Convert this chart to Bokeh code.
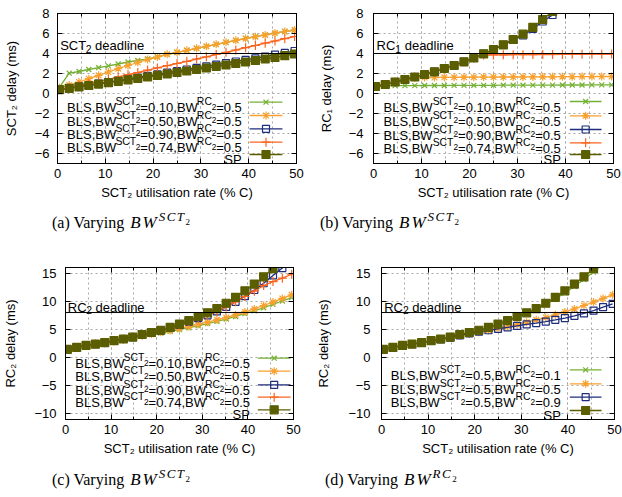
from bokeh.plotting import figure
from bokeh.models import Range1d, FixedTicker, LinearAxis, Span, Div, ColumnDataSource
from bokeh.layouts import column, row
from bokeh.core.properties import value, field
from bokeh.embed import file_html
from bokeh.resources import INLINE

# ---------------- data ----------------
x_util = [0.4, 2.45, 4.5, 6.55, 8.6, 10.65, 12.7, 14.75, 16.8, 18.85, 20.9, 22.95, 25.0,
          27.05, 29.1, 31.15, 33.2, 35.25, 37.3, 39.35, 41.4, 43.45, 45.5, 47.55, 49.6]

x_ticks = [0, 10, 20, 30, 40, 50]
x_minor_ticks = [0, 5, 10, 15, 20, 25, 30, 35, 40, 45, 50]
y_ticks_top = [-6, -4, -2, 0, 2, 4, 6, 8]
y_ticks_bottom = [-10, -5, 0, 5, 10, 15]

# (a) SCT2 delay
a_bw010 = [0.62, 2.03, 2.2, 2.4, 2.58, 2.76, 2.95, 3.15, 3.3, 3.45, 3.65, 3.92, 4.12, 4.32, 4.52, 4.72, 4.92, 5.12, 5.32, 5.5, 5.68, 5.86, 6.04, 6.2, 6.35]
a_bw050 = [0.57, 0.85, 1.15, 1.48, 1.82, 2.15, 2.48, 2.8, 3.1, 3.4, 3.65, 3.92, 4.12, 4.32, 4.52, 4.72, 4.92, 5.12, 5.32, 5.5, 5.68, 5.86, 6.04, 6.2, 6.35]
a_bw090 = [0.38, 0.53, 0.68, 0.83, 0.98, 1.13, 1.28, 1.44, 1.6, 1.76, 1.92, 2.08, 2.24, 2.4, 2.56, 2.72, 2.88, 3.04, 3.2, 3.36, 3.52, 3.7, 3.88, 4.06, 4.25]
a_bw074 = [0.4, 0.58, 0.78, 0.98, 1.2, 1.42, 1.65, 1.88, 2.1, 2.34, 2.56, 2.78, 3.0, 3.22, 3.45, 3.67, 3.9, 4.12, 4.35, 4.58, 4.8, 5.03, 5.25, 5.48, 5.7]
a_sp = [0.38, 0.52, 0.66, 0.8, 0.94, 1.08, 1.22, 1.36, 1.5, 1.65, 1.8, 1.95, 2.1, 2.25, 2.4, 2.55, 2.7, 2.85, 3.0, 3.15, 3.3, 3.45, 3.6, 3.78, 3.95]

# (b) RC1 delay
b_bw010 = [0.7, 0.78, 0.78, 0.79, 0.79, 0.8, 0.8, 0.8, 0.81, 0.81, 0.82, 0.82, 0.82, 0.83, 0.83, 0.83, 0.84, 0.84, 0.84, 0.85, 0.85, 0.85, 0.86, 0.86, 0.86]
b_bw050 = [0.7, 0.9, 1.15, 1.4, 1.6, 1.6, 1.6, 1.62, 1.62, 1.63, 1.63, 1.64, 1.64, 1.65, 1.65, 1.66, 1.66, 1.67, 1.67, 1.68, 1.68, 1.69, 1.69, 1.7, 1.7]
b_bw090 = [0.7, 0.9, 1.15, 1.4, 1.65, 1.9, 2.17, 2.5, 2.8, 3.17, 3.55, 3.97, 4.4, 4.87, 5.35, 5.8, 6.45, 7.2, 7.85, 8.6, 9.5, 10.4, 11.4, 12.5, 13.6]
b_bw074 = [0.7, 0.9, 1.15, 1.4, 1.65, 1.9, 2.17, 2.5, 2.8, 3.17, 3.55, 3.85, 3.86, 3.87, 3.88, 3.88, 3.89, 3.9, 3.9, 3.91, 3.92, 3.92, 3.93, 3.93, 3.94]
b_sp = [0.7, 0.9, 1.15, 1.4, 1.65, 1.9, 2.17, 2.5, 2.8, 3.17, 3.55, 3.97, 4.4, 4.87, 5.4, 5.93, 6.62, 7.4, 8.2, 9.05, 10.0, 11.0, 12.1, 13.3, 14.5]

# (c) RC2 delay, varying BW^SCT2
c_bw010 = [1.45, 1.8, 2.1, 2.35, 2.6, 2.9, 3.18, 3.5, 3.82, 4.08, 4.35, 4.65, 4.97, 5.3, 5.65, 6.02, 6.42, 6.85, 7.3, 7.8, 8.3, 8.85, 9.45, 10.05, 10.65]
c_bw050 = [1.45, 1.8, 2.12, 2.38, 2.62, 2.95, 3.22, 3.55, 3.9, 4.2, 4.5, 4.82, 5.15, 5.5, 5.88, 6.28, 6.7, 7.12, 7.6, 8.1, 8.65, 9.25, 9.85, 10.5, 11.15]
c_bw090 = [1.45, 1.8, 2.15, 2.4, 2.65, 3.0, 3.3, 3.65, 4.05, 4.4, 4.8, 5.25, 5.8, 6.4, 7.0, 7.5, 8.2, 9.0, 9.9, 10.9, 12.0, 13.2, 14.6, 15.9, 17.3]
c_bw074 = [1.45, 1.8, 2.15, 2.4, 2.65, 3.0, 3.3, 3.65, 4.05, 4.4, 4.8, 5.25, 5.8, 6.4, 7.0, 7.5, 8.2, 9.0, 9.9, 10.85, 11.8, 12.8, 13.5, 14.1, 14.8]
rc2_sp = [1.45, 1.8, 2.15, 2.4, 2.65, 3.0, 3.3, 3.65, 4.1, 4.45, 4.85, 5.35, 5.95, 6.55, 7.3, 7.95, 8.7, 9.65, 10.7, 11.85, 13.05, 14.35, 15.8, 17.3, 18.9]

# (d) RC2 delay, varying BW^RC2
d_rc01 = [1.45, 1.8, 2.15, 2.4, 2.65, 3.0, 3.3, 3.65, 4.1, 4.4, 4.8, 5.3, 5.85, 6.45, 7.15, 7.8, 8.5, 9.4, 10.4, 11.5, 12.65, 13.9, 15.2, 16.6, 18.1]
d_rc05 = c_bw050
d_rc09 = [1.45, 1.8, 2.12, 2.38, 2.62, 2.95, 3.22, 3.55, 3.95, 4.3, 4.6, 4.85, 5.1, 5.35, 5.62, 5.88, 6.12, 6.4, 6.7, 7.02, 7.4, 7.85, 8.35, 8.95, 9.55]

deadline_a = 4
deadline_b = 4
deadline_c = 8
deadline_d = 8

# ---------------- styles ----------------
FONT = "Liberation Sans"
GREEN, ORANGE, NAVY, RED, OLIVE = "#74b032", "#f9a12e", "#1e2d7d", "#fb641e", "#5b5e00"
GRIDC = "#a8a8a8"
STY = {
    "g": dict(color=GREEN, marker="x", size=7, fill=None),
    "o": dict(color=ORANGE, marker="asterisk", size=8, fill=None),
    "b": dict(color=NAVY, marker="square", size=7, fill=None),
    "r": dict(color=RED, marker="cross", size=9, fill=None),
    "sp": dict(color=OLIVE, marker="square", size=8, fill=OLIVE),
}

CW = {' ': 278, ',': 278, '.': 278, '=': 584, 'B': 667, 'L': 556, 'S': 667, 'W': 944,
      'C': 722, 'T': 611, 'R': 722, 'P': 667, 'd': 556, 'e': 556, 'a': 556, 'l': 222,
      'i': 222, 'n': 556}
SIZES = {"n": 13.0, "sup": 10.4, "ss": 8.3, "sub": 10.4}
RAISE = {"n": 0.0, "sup": 6.0, "ss": 1.0, "sub": -3.0}


def seg_width(t, s):
    return sum(CW.get(c, 556) for c in t) * s / 1000.0


def to_data(G, gx, gy):
    x0, x1 = G["xr"]
    y0, y1 = G["yr"]
    x = x0 + (gx - G["fl"]) / (G["fr"] - G["fl"]) * (x1 - x0)
    y = y1 - (gy - G["ft"]) / (G["fb"] - G["ft"]) * (y1 - y0)
    return x, y


def rich_text(p, G, segs, gx, gbase, align="left"):
    total = sum(seg_width(t, SIZES[k]) for t, k in segs)
    cx = gx - total if align == "right" else gx
    xs, ys, ts, fs = [], [], [], []
    for t, k in segs:
        lead = len(t) - len(t.lstrip(" "))
        cx += seg_width(" " * lead, SIZES[k])
        t = t.lstrip(" ")
        dx, dy = to_data(G, cx, gbase - RAISE[k])
        xs.append(dx); ys.append(dy); ts.append(t); fs.append("%.1fpx" % SIZES[k])
        cx += seg_width(t, SIZES[k])
    src = ColumnDataSource(dict(x=xs, y=ys, text=ts, fs=fs))
    p.text(x="x", y="y", text="text", source=src, text_font=value(FONT),
           text_font_size=field("fs"), text_align="left", text_baseline="alphabetic",
           text_color="black")


def style_axis(ax, ticker, standoff, lstandoff, mirror=False):
    ax.ticker = ticker
    ax.major_tick_in = 5
    ax.major_tick_out = 0
    ax.minor_tick_in = 3
    ax.minor_tick_out = 0
    ax.axis_line_color = "black"
    ax.major_tick_line_color = "black"
    ax.minor_tick_line_color = "black"
    ax.major_label_standoff = standoff
    ax.axis_label_standoff = lstandoff
    ax.major_label_text_font = FONT
    ax.major_label_text_color = "black"
    ax.axis_label_text_font = FONT
    ax.axis_label_text_font_size = "13px"
    ax.axis_label_text_font_style = "normal"
    ax.axis_label_text_color = "black"
    if mirror:
        ax.major_label_text_font_size = "0px"
        ax.major_label_text_alpha = 0
    else:
        ax.major_label_text_font_size = "13px"


def leg_segs(sct, rc):
    return [("BLS,BW", "n"), ("SCT", "sup"), ("2", "ss"), ("=" + sct + ",BW", "n"),
            ("RC", "sup"), ("2", "ss"), ("=" + rc, "n")]


def make_panel(G, ylabel, yticks, series, legend, deadline, dl_segs):
    p = figure(width=311, height=G["h"], x_range=Range1d(*G["xr"]), y_range=Range1d(*G["yr"]),
               min_border_left=G["fl"] - G["ox"], min_border_right=G["ox"] + 311 - G["fr"],
               min_border_top=G["ft"] - G["oy"], min_border_bottom=G["oy"] + G["h"] - G["fb"],
               output_backend="svg", toolbar_location=None,
               x_axis_label="SCT\u2082 utilisation rate (% C)", y_axis_label=ylabel)
    p.outline_line_color = "black"
    p.outline_line_width = 1
    p.background_fill_color = "white"
    p.border_fill_color = "white"
    xt = FixedTicker(ticks=x_ticks, minor_ticks=x_minor_ticks)
    yt = FixedTicker(ticks=yticks, minor_ticks=[])
    style_axis(p.xaxis[0], xt, 5, 4)
    style_axis(p.yaxis[0], yt, G["ys"], G["yls"])
    top = LinearAxis()
    style_axis(top, xt, 0, 0, mirror=True)
    p.add_layout(top, "above")
    right = LinearAxis()
    style_axis(right, yt, 0, 0, mirror=True)
    p.add_layout(right, "right")
    for gr, tk in ((p.xgrid, xt), (p.ygrid, yt)):
        gr.ticker = tk
        gr.grid_line_color = GRIDC
        gr.grid_line_dash = "2 3"
        gr.grid_line_width = 1
    p.xgrid.minor_grid_line_color = GRIDC
    p.xgrid.minor_grid_line_dash = "2 3"

    p.add_layout(Span(location=deadline, dimension="width", line_color="black", line_width=1))
    rich_text(p, G, dl_segs, G["dl_x"], G["dl_base"])

    for key, ys in series:
        s = STY[key]
        p.line(x_util, ys, line_color=s["color"], line_width=1.3)
        p.scatter(x_util, ys, marker=s["marker"], size=s["size"], line_color=s["color"],
                  fill_color=s["fill"], line_width=1.2)

    for i, (key, segs) in enumerate(legend):
        s = STY[key]
        gy = G["leg_y"][i]
        xa, ya = to_data(G, G["leg_s"][0], gy)
        xb, _ = to_data(G, G["leg_s"][1], gy)
        p.line([xa, xb], [ya, ya], line_color=s["color"], line_width=1.3)
        p.scatter([(xa + xb) / 2], [ya], marker=s["marker"], size=s["size"],
                  line_color=s["color"], fill_color=s["fill"], line_width=1.2)
        base = gy + (4.5 if len(segs) == 1 else 5.5)
        rich_text(p, G, segs, G["leg_r"], base, align="right")
    return p


GA = dict(ox=0, oy=0, h=205, fl=53, fr=296, ft=13, fb=163, xr=(0, 50), yr=(-7, 8), ys=8, yls=13,
          dl_x=55.7, dl_base=45, leg_r=240, leg_s=(248.3, 281.7), leg_y=[101.7, 115, 128.3, 141.7, 154])
GB = dict(ox=311, oy=0, h=205, fl=373, fr=613, ft=13, fb=163, xr=(0, 50), yr=(-7, 8), ys=10, yls=12,
          dl_x=376, dl_base=45, leg_r=560.3, leg_s=(569.3, 601), leg_y=[101, 115.3, 129, 142.3, 154])
GC = dict(ox=0, oy=250, h=215, fl=61, fr=293, ft=267, fb=419, xr=(0, 50), yr=(-11, 16), ys=9, yls=13,
          dl_x=63.3, dl_base=306.7, leg_r=248.3, leg_s=(256.7, 290), leg_y=[357.7, 370.7, 384.3, 396.7, 409.3])
GD = dict(ox=311, oy=250, h=215, fl=381, fr=614, ft=267, fb=419, xr=(0, 50), yr=(-11, 16), ys=11, yls=14,
          dl_x=383.7, dl_base=306.7, leg_r=560.3, leg_s=(569.3, 601), leg_y=[369.3, 383.3, 396.7, 410])

leg_sct = [("g", leg_segs("0.10", "0.5")), ("o", leg_segs("0.50", "0.5")),
           ("b", leg_segs("0.90", "0.5")), ("r", leg_segs("0.74", "0.5")), ("sp", [("SP", "n")])]
leg_rc = [("g", leg_segs("0.5", "0.1")), ("o", leg_segs("0.5", "0.5")),
          ("b", leg_segs("0.5", "0.9")), ("sp", [("SP", "n")])]

pa = make_panel(GA, "SCT\u2082 delay (ms)", y_ticks_top,
                [("g", a_bw010), ("o", a_bw050), ("b", a_bw090), ("r", a_bw074), ("sp", a_sp)],
                leg_sct, deadline_a, [("SCT", "n"), ("2", "sub"), (" deadline", "n")])
pb = make_panel(GB, "RC\u2081 delay (ms)", y_ticks_top,
                [("g", b_bw010), ("o", b_bw050), ("b", b_bw090), ("r", b_bw074), ("sp", b_sp)],
                leg_sct, deadline_b, [("RC", "n"), ("1", "sub"), (" deadline", "n")])
pc = make_panel(GC, "RC\u2082 delay (ms)", y_ticks_bottom,
                [("g", c_bw010), ("o", c_bw050), ("b", c_bw090), ("r", c_bw074), ("sp", rc2_sp)],
                leg_sct, deadline_c, [("RC", "n"), ("2", "sub"), (" deadline", "n")])
pd = make_panel(GD, "RC\u2082 delay (ms)", y_ticks_bottom,
                [("g", d_rc01), ("o", d_rc05), ("b", d_rc09), ("sp", rc2_sp)],
                leg_rc, deadline_d, [("RC", "n"), ("2", "sub"), (" deadline", "n")])


def caption(letter, sup, sub, pad_left, pad_top, h):
    html = ('<div style="font-family:\'Liberation Serif\',serif;font-size:16px;line-height:20px;'
            'white-space:nowrap;color:black;padding-left:%dpx;padding-top:%dpx">'
            '(%s) Varying <i style="font-size:17px;letter-spacing:2px;margin-left:2px">BW</i>'
            '<span style="position:relative;top:-7px;font-size:13px;letter-spacing:1.5px">'
            '<i>%s</i><span style="position:relative;top:4px;font-size:9px">%s</span></span></div>'
            % (pad_left, pad_top, letter, sup, sub))
    return Div(text=html, width=311, height=h, margin=0)


cap_a = caption("a", "SCT", "2", 52, 8, 45)
cap_b = caption("b", "SCT", "2", 9, 8, 45)
cap_c = caption("c", "SCT", "2", 52, 5, 32)
cap_d = caption("d", "RC", "2", 14, 5, 32)

layout = column(row(pa, pb), row(cap_a, cap_b), row(pc, pd), row(cap_c, cap_d))
open("out.html", "w").write(file_html(layout, INLINE, title="delays"))
